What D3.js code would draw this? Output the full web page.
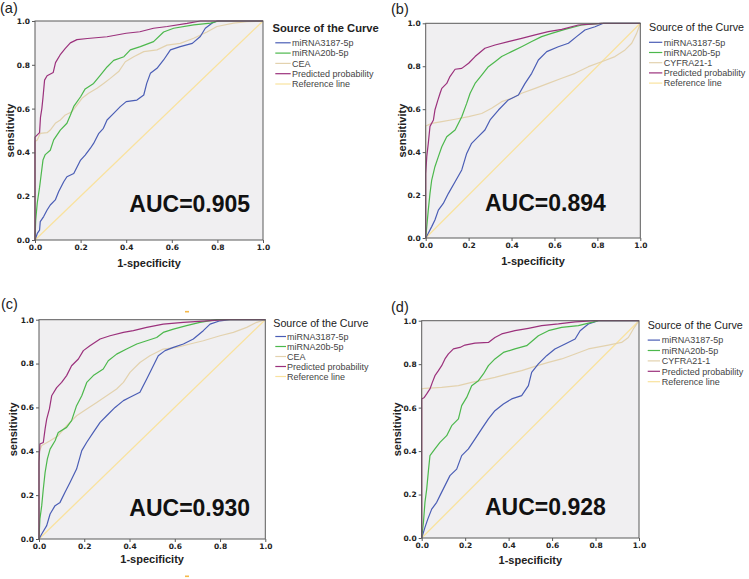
<!DOCTYPE html>
<html><head><meta charset="utf-8">
<script src="https://cdn.jsdelivr.net/npm/d3@7"></script>
<style>body{margin:0;background:#fff}svg{display:block}</style>
</head><body><svg id="chart" width="749" height="579"></svg>
<script>
// ---------- data ----------
const panelLabels = ["(a)", "(b)", "(c)", "(d)"];
const aucLabels = ["AUC=0.905", "AUC=0.894", "AUC=0.930", "AUC=0.928"];
const legendTitle = "Source of the Curve";
const markerNames = ["CEA", "CYFRA21-1", "CEA", "CYFRA21-1"];
const seriesNames = ["miRNA3187-5p", "miRNA20b-5p", "MARKER", "Predicted probability", "Reference line"];
const tickValues = [0, 0.2, 0.4, 0.6, 0.8, 1.0];
const xTitle = "1-specificity";
const yTitle = "sensitivity";

const refLine = [[0,0],[1,1]];

const aBlue = [[0,0],[0.01,0.03],[0.02,0.045],[0.023,0.084],[0.038,0.107],[0.053,0.137],[0.067,0.16],[0.089,0.183],[0.104,0.221],[0.126,0.266],[0.14,0.289],[0.17,0.304],[0.2,0.365],[0.22,0.388],[0.243,0.419],[0.257,0.441],[0.28,0.487],[0.3,0.51],[0.316,0.548],[0.345,0.578],[0.374,0.609],[0.4,0.632],[0.447,0.639],[0.477,0.662],[0.49,0.715],[0.506,0.761],[0.535,0.784],[0.564,0.822],[0.594,0.868],[0.637,0.883],[0.69,0.898],[0.725,0.929],[0.747,0.967],[0.776,0.99],[0.798,1],[1,1]];
const aGreen = [[0,0],[0.003,0.09],[0.01,0.17],[0.02,0.24],[0.026,0.29],[0.035,0.365],[0.045,0.39],[0.067,0.41],[0.082,0.457],[0.111,0.502],[0.14,0.533],[0.155,0.57],[0.17,0.61],[0.2,0.654],[0.22,0.69],[0.257,0.715],[0.287,0.753],[0.316,0.79],[0.345,0.82],[0.39,0.837],[0.418,0.868],[0.462,0.883],[0.52,0.906],[0.564,0.95],[0.608,0.967],[0.696,0.982],[0.77,0.99],[0.805,1],[1,1]];
const aMarker = [[0,0],[0,0.45],[0.01,0.457],[0.023,0.487],[0.053,0.49],[0.067,0.502],[0.089,0.533],[0.111,0.548],[0.133,0.571],[0.162,0.586],[0.184,0.616],[0.206,0.647],[0.235,0.67],[0.272,0.693],[0.301,0.715],[0.33,0.738],[0.367,0.769],[0.396,0.814],[0.433,0.837],[0.477,0.86],[0.535,0.868],[0.579,0.89],[0.637,0.898],[0.696,0.921],[0.754,0.95],[0.798,0.975],[0.871,0.99],[0.93,0.997],[1,1]];
const aPred = [[0,0],[0,0.47],[0.01,0.48],[0.02,0.49],[0.024,0.56],[0.03,0.6],[0.035,0.65],[0.042,0.73],[0.053,0.75],[0.08,0.765],[0.09,0.81],[0.11,0.845],[0.133,0.875],[0.155,0.9],[0.184,0.915],[0.23,0.92],[0.316,0.928],[0.4,0.944],[0.46,0.951],[0.52,0.967],[0.58,0.975],[0.667,0.989],[0.725,1],[1,1]];

const bBlue = [[0,0],[0.012,0.022],[0.028,0.053],[0.043,0.084],[0.059,0.13],[0.082,0.161],[0.106,0.208],[0.137,0.262],[0.168,0.317],[0.191,0.394],[0.214,0.441],[0.245,0.472],[0.276,0.503],[0.3,0.55],[0.339,0.596],[0.385,0.643],[0.432,0.666],[0.463,0.72],[0.494,0.767],[0.525,0.829],[0.564,0.868],[0.618,0.891],[0.665,0.907],[0.703,0.938],[0.742,0.969],[0.789,0.984],[0.828,1],[1,1]];
const bGreen = [[0,0],[0.005,0.053],[0.012,0.13],[0.02,0.208],[0.028,0.27],[0.043,0.332],[0.059,0.379],[0.075,0.425],[0.098,0.472],[0.137,0.503],[0.168,0.565],[0.191,0.627],[0.207,0.674],[0.23,0.72],[0.261,0.759],[0.292,0.798],[0.323,0.821],[0.354,0.845],[0.4,0.868],[0.447,0.891],[0.494,0.915],[0.54,0.938],[0.587,0.953],[0.649,0.972],[0.727,0.992],[0.82,1],[1,1]];
const bMarker = [[0,0],[0,0.522],[0.028,0.534],[0.075,0.542],[0.137,0.553],[0.2,0.565],[0.261,0.58],[0.307,0.604],[0.354,0.635],[0.4,0.65],[0.447,0.674],[0.51,0.697],[0.571,0.72],[0.634,0.744],[0.696,0.767],[0.758,0.798],[0.82,0.821],[0.882,0.845],[0.929,0.876],[0.96,0.907],[0.983,0.953],[1,1]];
const bPred = [[0,0],[0,0.3],[0.005,0.38],[0.012,0.44],[0.02,0.52],[0.036,0.55],[0.043,0.596],[0.056,0.64],[0.067,0.674],[0.075,0.697],[0.098,0.72],[0.113,0.752],[0.137,0.786],[0.168,0.79],[0.2,0.814],[0.23,0.845],[0.276,0.884],[0.323,0.899],[0.385,0.915],[0.447,0.93],[0.51,0.946],[0.571,0.961],[0.634,0.972],[0.711,0.992],[0.82,1],[1,1]];

const cBlue = [[0,0],[0.012,0.023],[0.034,0.061],[0.049,0.114],[0.071,0.152],[0.093,0.167],[0.115,0.213],[0.137,0.258],[0.166,0.319],[0.189,0.403],[0.211,0.441],[0.24,0.486],[0.27,0.532],[0.299,0.562],[0.336,0.6],[0.373,0.631],[0.402,0.646],[0.446,0.669],[0.476,0.73],[0.498,0.775],[0.527,0.836],[0.557,0.859],[0.594,0.874],[0.638,0.889],[0.682,0.912],[0.726,0.95],[0.756,0.98],[0.8,0.995],[0.844,1],[1,1]];
const cGreen = [[0,0],[0.004,0.091],[0.012,0.152],[0.019,0.228],[0.027,0.304],[0.037,0.365],[0.049,0.41],[0.071,0.448],[0.085,0.486],[0.122,0.509],[0.144,0.54],[0.166,0.608],[0.189,0.653],[0.211,0.714],[0.24,0.745],[0.284,0.775],[0.306,0.813],[0.343,0.843],[0.387,0.866],[0.432,0.889],[0.476,0.904],[0.52,0.919],[0.549,0.942],[0.594,0.957],[0.652,0.973],[0.711,0.988],[0.785,1],[1,1]];
const cMarker = [[0,0],[0,0.395],[0.012,0.426],[0.049,0.448],[0.085,0.471],[0.122,0.517],[0.166,0.562],[0.211,0.593],[0.255,0.623],[0.299,0.653],[0.343,0.684],[0.373,0.714],[0.402,0.76],[0.446,0.805],[0.49,0.836],[0.549,0.866],[0.608,0.874],[0.667,0.889],[0.726,0.904],[0.8,0.927],[0.859,0.942],[0.918,0.965],[0.962,0.988],[1,1]];
const cPred = [[0,0],[0,0.35],[0.004,0.433],[0.019,0.44],[0.027,0.502],[0.034,0.547],[0.046,0.593],[0.056,0.653],[0.078,0.69],[0.1,0.714],[0.122,0.745],[0.144,0.79],[0.174,0.821],[0.196,0.859],[0.225,0.881],[0.27,0.912],[0.314,0.927],[0.373,0.942],[0.417,0.95],[0.476,0.965],[0.549,0.98],[0.638,0.988],[0.741,0.995],[0.829,1],[1,1]];

const dBlue = [[0,0],[0.008,0.026],[0.015,0.049],[0.028,0.087],[0.046,0.133],[0.069,0.164],[0.084,0.195],[0.107,0.241],[0.13,0.287],[0.161,0.317],[0.184,0.379],[0.215,0.41],[0.245,0.455],[0.276,0.502],[0.307,0.548],[0.337,0.586],[0.376,0.617],[0.414,0.64],[0.46,0.655],[0.491,0.701],[0.506,0.762],[0.537,0.801],[0.575,0.839],[0.613,0.87],[0.66,0.893],[0.706,0.916],[0.729,0.954],[0.767,0.985],[0.813,1],[1,1]];
const dGreen = [[0,0],[0.008,0.072],[0.015,0.164],[0.023,0.225],[0.031,0.31],[0.038,0.379],[0.061,0.41],[0.084,0.44],[0.115,0.471],[0.138,0.517],[0.169,0.548],[0.184,0.609],[0.207,0.647],[0.23,0.701],[0.261,0.724],[0.284,0.755],[0.307,0.793],[0.337,0.824],[0.376,0.854],[0.429,0.87],[0.483,0.885],[0.537,0.931],[0.583,0.954],[0.644,0.969],[0.721,0.977],[0.782,0.992],[0.813,1],[1,1]];
const dMarker = [[0,0],[0,0.686],[0.015,0.689],[0.092,0.693],[0.169,0.701],[0.23,0.716],[0.291,0.729],[0.337,0.739],[0.399,0.755],[0.46,0.77],[0.521,0.79],[0.583,0.808],[0.644,0.824],[0.706,0.847],[0.767,0.87],[0.859,0.888],[0.92,0.9],[0.951,0.923],[0.974,0.962],[1,1]];
const dPred = [[0,0],[0,0.64],[0.012,0.647],[0.023,0.663],[0.038,0.686],[0.049,0.716],[0.061,0.747],[0.077,0.77],[0.092,0.793],[0.107,0.824],[0.123,0.847],[0.146,0.87],[0.176,0.877],[0.199,0.888],[0.245,0.897],[0.307,0.9],[0.337,0.923],[0.368,0.939],[0.429,0.954],[0.491,0.965],[0.552,0.977],[0.629,0.985],[0.706,0.995],[0.798,1],[1,1]];

const panelSeries = [
  [aBlue, aGreen, aMarker, aPred, refLine],
  [bBlue, bGreen, bMarker, bPred, refLine],
  [cBlue, cGreen, cMarker, cPred, refLine],
  [dBlue, dGreen, dMarker, dPred, refLine]
];

// ---------- styles / layout ----------
const colors = ["#4a5db5", "#4cb84c", "#e3d2ae", "#9b317c", "#f9e29e"];
const drawOrder = [4, 2, 0, 1, 3];

const layout = [
  {l:35, r:263, t:21, b:240, lab:[0,13], auc:[129.3,212], xt:266.7, yt:14,
   leg:{x:272.5, ty:31.5, y0:46, dy:10.3, lx1:275.3, lx2:290.7, tx:292, bold:true}},
  {l:425.7, r:640.3, t:23.3, b:238, lab:[391,14], auc:[485,210.7], xt:265, yt:405.5,
   leg:{x:649, ty:30.5, y0:45.5, dy:10.2, lx1:649, lx2:662.3, tx:663.7, bold:false}},
  {l:39, r:265.3, t:319.7, b:539, lab:[1,308.7], auc:[129.3,515.7], xt:563.3, yt:17,
   leg:{x:273.3, ty:327, y0:339.7, dy:10, lx1:275.3, lx2:286, tx:287, bold:false}},
  {l:421.7, r:639, t:320.7, b:538, lab:[391,311.7], auc:[485,515], xt:564, yt:401,
   leg:{x:647.7, ty:329, y0:343.3, dy:10.4, lx1:647.7, lx2:660, tx:661.7, bold:false}}
];

const svg = d3.select("#chart");
const SANS = "Arial, 'Liberation Sans', sans-serif";

layout.forEach((L, i) => {
  const g = svg.append("g");
  const x = d3.scaleLinear().domain([0, 1]).range([L.l, L.r]);
  const y = d3.scaleLinear().domain([0, 1]).range([L.b, L.t]);

  g.append("rect").attr("x", L.l).attr("y", L.t)
    .attr("width", L.r - L.l).attr("height", L.b - L.t)
    .attr("fill", "#f0eff1");

  const line = d3.line().x(d => x(d[0])).y(d => y(d[1]));
  const series = panelSeries[i];
  drawOrder.forEach(k => {
    g.append("path").datum(series[k]).attr("d", line)
      .attr("fill", "none").attr("stroke", colors[k])
      .attr("stroke-width", k === 4 ? 1.3 : 1.2)
      .attr("stroke-linejoin", "round");
  });

  g.append("rect").attr("x", L.l).attr("y", L.t)
    .attr("width", L.r - L.l).attr("height", L.b - L.t)
    .attr("fill", "none").attr("stroke", "#5a5a5a").attr("stroke-width", 1);

  const fmt = d3.format(".1f");
  const xa = g.append("g").attr("transform", `translate(0,${L.b})`)
    .call(d3.axisBottom(x).tickValues(tickValues).tickFormat(fmt).tickSize(3).tickPadding(2));
  const ya = g.append("g").attr("transform", `translate(${L.l},0)`)
    .call(d3.axisLeft(y).tickValues(tickValues).tickFormat(fmt).tickSize(3).tickPadding(2));
  [xa, ya].forEach(a => {
    a.select(".domain").remove();
    a.selectAll("line").attr("stroke", "#5a5a5a");
    a.selectAll("text").attr("font-family", "'DejaVu Sans', sans-serif")
      .attr("font-weight", "bold").attr("font-size", 7.5).attr("fill", "#222");
  });

  g.append("text").attr("x", (L.l + L.r) / 2).attr("y", L.xt)
    .attr("text-anchor", "middle").attr("font-family", SANS)
    .attr("font-weight", "bold").attr("font-size", 11).attr("fill", "#222").text(xTitle);
  g.append("text").attr("transform", `translate(${L.yt},${(L.t + L.b) / 2}) rotate(-90)`)
    .attr("text-anchor", "middle").attr("font-family", SANS)
    .attr("font-weight", "bold").attr("font-size", 11).attr("fill", "#222").text(yTitle);

  g.append("text").attr("x", L.auc[0]).attr("y", L.auc[1])
    .attr("font-family", SANS).attr("font-weight", "bold").attr("font-size", 23)
    .attr("fill", "#111").text(aucLabels[i]);

  g.append("text").attr("x", L.lab[0]).attr("y", L.lab[1])
    .attr("font-family", SANS).attr("font-size", 14.5).attr("fill", "#222").text(panelLabels[i]);

  const lg = L.leg;
  g.append("text").attr("x", lg.x).attr("y", lg.ty)
    .attr("font-family", SANS).attr("font-size", lg.bold ? 11.2 : 10.7)
    .attr("font-weight", lg.bold ? "bold" : "normal").attr("fill", "#222").text(legendTitle);
  seriesNames.forEach((nm, k) => {
    const yy = lg.y0 + k * lg.dy;
    g.append("line").attr("x1", lg.lx1).attr("x2", lg.lx2)
      .attr("y1", yy - 3.2).attr("y2", yy - 3.2)
      .attr("stroke", colors[k]).attr("stroke-width", 1.2);
    g.append("text").attr("x", lg.tx).attr("y", yy)
      .attr("font-family", SANS).attr("font-size", 9).attr("fill", "#444")
      .text(nm === "MARKER" ? markerNames[i] : nm);
  });
});

// small orange marks visible near panel (c)
[311.7, 576.3].forEach(yy => {
  svg.append("rect").attr("x", 185).attr("y", yy - 0.8).attr("width", 4).attr("height", 1.6)
    .attr("fill", "#f5b94a");
});
</script>
</body></html>
